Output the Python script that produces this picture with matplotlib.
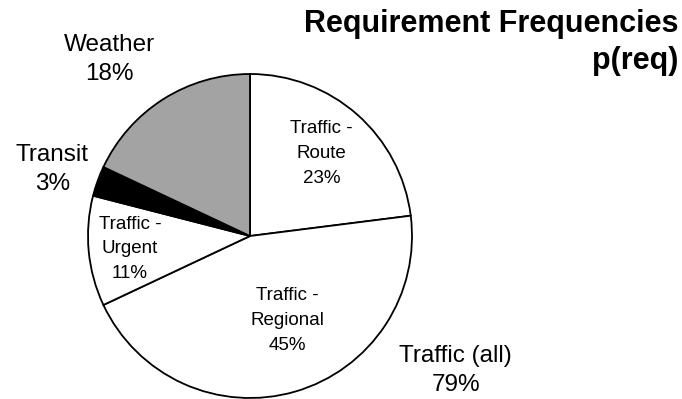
import matplotlib.pyplot as plt

plt.rcParams['font.family'] = ['Liberation Sans', 'DejaVu Sans']

# requirement shares, clockwise from 12 o'clock
labels = ["Traffic -\nRoute", "Traffic -\nRegional", "Traffic -\nUrgent", "Transit", "Weather"]
values = [23, 45, 11, 3, 18]
colors = ["white", "white", "white", "black", "#a3a3a3"]
traffic_total = sum(values[:3])

W, H = 682, 399
fig = plt.figure(figsize=(W / 100, H / 100), dpi=100)
R = 162
ax = fig.add_axes([(250 - R) / W, (163 - R) / H, 2 * R / W, 2 * R / H])
ax.pie(values, colors=colors, startangle=90, counterclock=False, radius=1,
       wedgeprops=dict(edgecolor="black", linewidth=1.3))
ax.set_xlim(-1, 1)
ax.set_ylim(-1, 1)
ax.set_aspect("equal")
ax.axis("off")

# label spots in pie units
inner = {0: (0.44, 0.51), 1: (0.23, -0.52), 2: (-0.74, -0.08)}
for i, (x, y) in inner.items():
    ax.text(x, y, f"{labels[i]}\n{values[i]}%", ha="center", va="center",
            fontsize=13.5, linespacing=1.6)

big = dict(ha="center", va="center", fontsize=17.5, linespacing=1.45, clip_on=False)
ax.text(-1.22, 0.41, f"{labels[3]}\n{values[3]}%", **big)
ax.text(-0.87, 1.09, f"{labels[4]}\n{values[4]}%", **big)
ax.text(1.27, -0.83, f"Traffic (all)\n{traffic_total}%", **big)

title = dict(ha="right", va="baseline", fontsize=22, fontweight="bold")
fig.text(678 / W, 1 - 32 / H, "Requirement Frequencies", **title)
fig.text(678 / W, 1 - 69 / H, "p(req)", **title)

fig.savefig("out.png", dpi=100)
